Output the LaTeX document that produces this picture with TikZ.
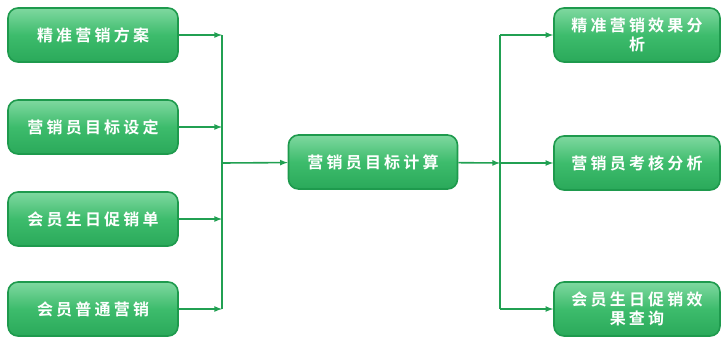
\documentclass[tikz,border=0pt]{standalone}
\usepackage{fontspec}
\setmainfont{Noto Sans CJK SC}[BoldFont={Noto Sans CJK SC Bold}]
\usetikzlibrary{arrows}
\definecolor{boxtop}{HTML}{7FD8A0}
\definecolor{boxmid}{HTML}{3DBC6C}
\definecolor{boxbot}{HTML}{2AA95A}
\definecolor{boxline}{HTML}{1E9A4D}
\definecolor{flow}{HTML}{21A052}
\begin{document}
\begin{tikzpicture}[x=1pt,y=-1pt]
                \useasboundingbox (0,0) rectangle (722,338);
                \tikzstyle{every node}=[rounded corners=10pt,draw=boxline,line width=1.6pt,
                    top color=boxtop,bottom color=boxbot,middle color=boxmid,
                    text=white,font=\bfseries\fontsize{16}{19}\selectfont\addfontfeatures{LetterSpace=20},
                    align=center,inner sep=2pt,anchor=center]
                \tikzstyle{flowline}=[draw=flow,line width=1.6pt]
                \node[minimum width=170pt,minimum height=54pt] (plan) at (93,35) {精准营销方案};
                \node[minimum width=170pt,minimum height=54pt] (goal) at (93,127) {营销员目标设定};
                \node[minimum width=170pt,minimum height=54pt] (bday) at (93,219) {会员生日促销单};
                \node[minimum width=170pt,minimum height=54pt] (common) at (93,309) {会员普通营销};
                \node[minimum width=169pt,minimum height=54pt] (calc) at (373,162) {营销员目标计算};
                \node[minimum width=166pt,minimum height=54pt] (effect) at (637,35) {精准营销效果分\\析};
                \node[minimum width=166pt,minimum height=54pt] (assess) at (637,163) {营销员考核分析};
                \node[minimum width=166pt,minimum height=54pt] (query) at (637,309) {会员生日促销效\\果查询};
                \coordinate (lbar) at (222,163);
                \coordinate (rbar) at (500,163);
                \draw[flowline] (lbar |- plan) -- (lbar |- common);
                \draw[flowline] (rbar |- effect) -- (rbar |- query);
                \draw[flowline,-latex] (plan) -- (lbar |- plan);
                \draw[flowline,-latex] (goal) -- (lbar |- goal);
                \draw[flowline,-latex] (bday) -- (lbar |- bday);
                \draw[flowline,-latex] (common) -- (lbar |- common);
                \draw[flowline,-latex] (lbar) -- (calc);
                \draw[flowline,-latex] (calc) -- (rbar);
                \draw[flowline,-latex] (rbar |- effect) -- (effect);
                \draw[flowline,-latex] (rbar) -- (assess);
                \draw[flowline,-latex] (rbar |- query) -- (query);
            \end{tikzpicture}
\end{document}
